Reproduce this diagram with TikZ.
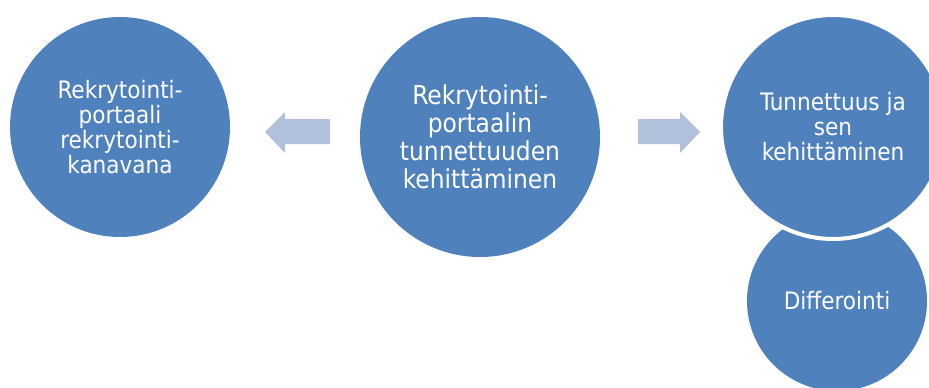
\documentclass[tikz,border=0pt]{standalone}
\usepackage{fontspec}
\setmainfont{DejaVu Sans Condensed}
\definecolor{cblue}{HTML}{4F81BD}
\definecolor{carrow}{HTML}{B2C1DB}
\tikzset{
  bubble/.style={circle, fill=cblue, inner sep=0pt, text=white, align=center},
  smallfont/.style={font=\fontsize{24}{25}\selectfont},
  bigfont/.style={font=\fontsize{26}{28}\selectfont},
  blockarrow/.style={fill=carrow, draw=none}
}
\begin{document}
\begin{tikzpicture}[x=1pt, y=-1pt]
\useasboundingbox (0,0) rectangle (929,388);
\clip (0,0) rectangle (929,388);
\node[bubble, smallfont, minimum size=220pt] (left) at (120,127) {Rekrytointi-\\portaali\\rekrytointi-\\kanavana};
\node[bubble, bigfont, minimum size=240pt] (mid) at (480,137) {Rekrytointi-\\portaalin\\tunnettuuden\\kehittäminen};
\node[bubble, smallfont, minimum size=180pt] (diff) at (837,301) {Differointi};
\node[bubble, smallfont, minimum size=224pt, draw=white, line width=4pt] (right) at (833,127) {Tunnettuus ja\\sen\\kehittäminen};
\fill[blockarrow] (265,132) -- (285,112) -- (285,119) -- (330,119) -- (330,144) -- (285,144) -- (285,153) -- cycle;
\fill[blockarrow] (700,132) -- (680,112) -- (680,119) -- (638,119) -- (638,144) -- (680,144) -- (680,153) -- cycle;
\end{tikzpicture}
\end{document}
